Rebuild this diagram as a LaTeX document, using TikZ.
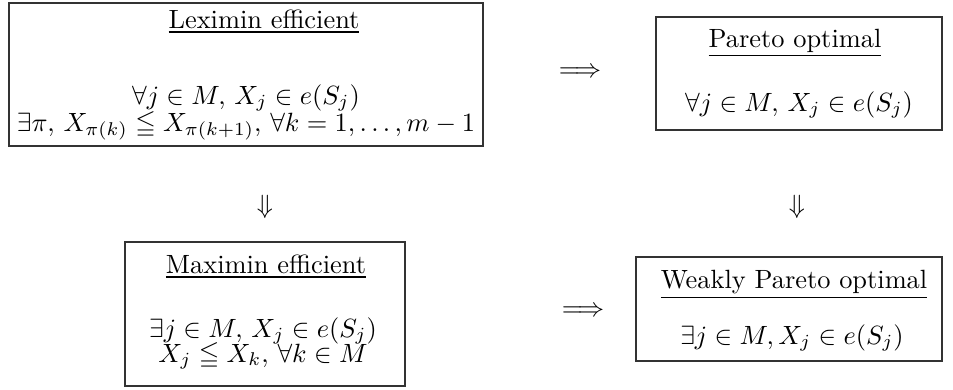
\documentclass[tikz,border=0pt]{standalone}
\usepackage{amsmath,amssymb}
\begin{document}
\begin{tikzpicture}[x=0.01332cm,y=-0.01332cm,
  box/.style={draw=black!80,line width=0.5pt,rectangle,inner sep=0pt},
  txt/.style={anchor=base,inner sep=0pt}]
\useasboundingbox (0,0) rectangle (953,389);
% boxes
\node[box,minimum width=474*0.01332cm,minimum height=143*0.01332cm] (lex) at (246,74.5) {};
\node[box,minimum width=286*0.01332cm,minimum height=113*0.01332cm] (par) at (799,73.5) {};
\node[box,minimum width=280*0.01332cm,minimum height=144*0.01332cm] (max) at (265,314) {};
\node[box,minimum width=306*0.01332cm,minimum height=104*0.01332cm] (wpo) at (789,309) {};
% Leximin
\node[txt] (lext) at (264,28) {\underline{Leximin efficient}};
\node[txt] (lexa) at (246,104) {$\forall j\in M,\, X_j\in e(S_j)$};
\node[txt] (lexb) at (246,131) {$\exists \pi,\, X_{\pi(k)} \leqq X_{\pi(k+1)},\, \forall k=1,\ldots,m-1$};
% Pareto
\node[txt] (part) at (795,47) {\underline{Pareto optimal}};
\node[txt] (para) at (799,111) {$\forall j\in M,\, X_j\in e(S_j)$};
% Maximin
\node[txt] (maxt) at (266,273) {\underline{Maximin efficient}};
\node[txt] (maxa) at (263,337) {$\exists j\in M,\, X_j\in e(S_j)$};
\node[txt] (maxb) at (263,362) {$X_j \leqq X_k,\, \forall k\in M$};
% Weakly Pareto
\node[txt] (wpot) at (794,288) {\underline{Weakly Pareto optimal}};
\node[txt] (wpoa) at (792,344) {$\exists j\in M, X_j\in e(S_j)$};
% implication symbols
\node (i1) at (580,73) {$\Longrightarrow$};
\node (i2) at (583,312) {$\Longrightarrow$};
\node (i3) at (265,207) {$\Downarrow$};
\node (i4) at (797,207) {$\Downarrow$};
\end{tikzpicture}
\end{document}
